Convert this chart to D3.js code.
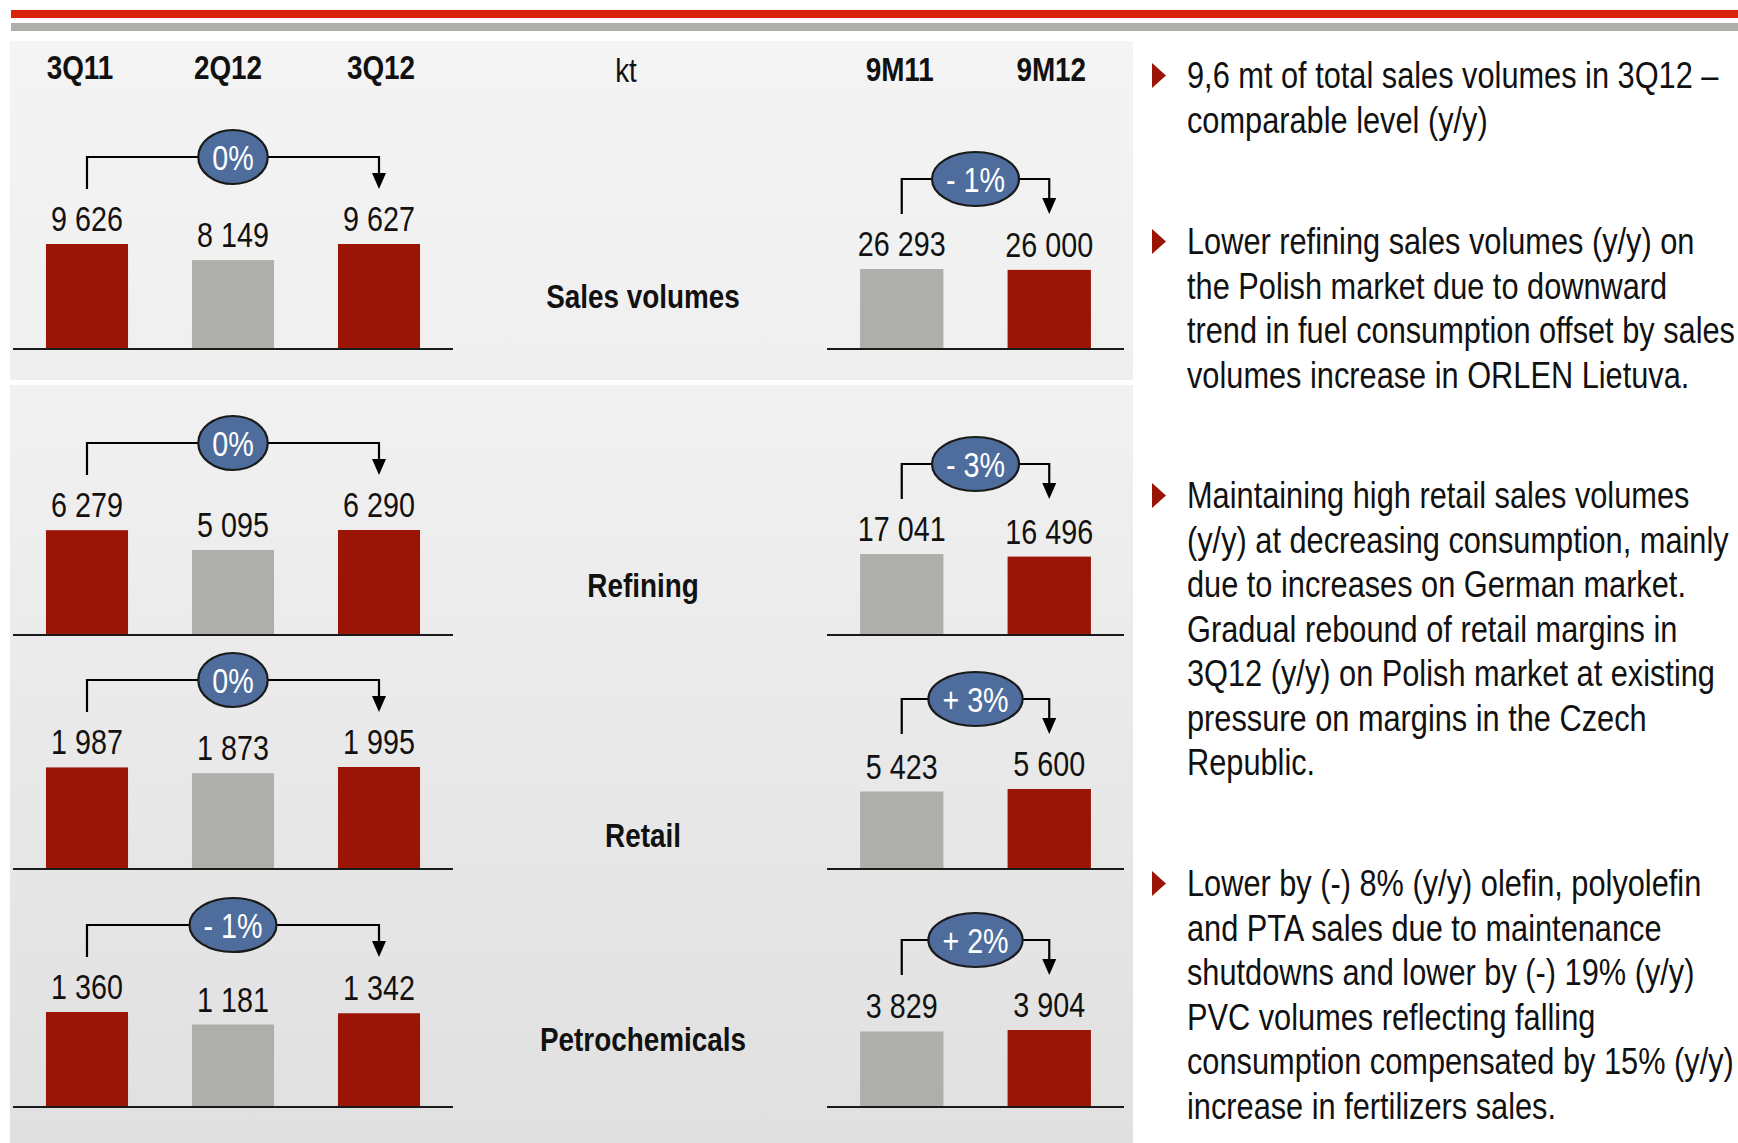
<!DOCTYPE html>
<html>
<head>
<meta charset="utf-8">
<script src="https://cdn.jsdelivr.net/npm/d3@7"></script>
<style>
  html, body { margin: 0; padding: 0; background: #fff; }
  svg { display: block; }
</style>
</head>
<body>
<svg id="chart" width="1738" height="1143"></svg>
<script>
// data
const segments = ['Sales volumes', 'Refining', 'Retail', 'Petrochemicals'];
const quarters = ['3Q11', '2Q12', '3Q12'];
const periods = ['9M11', '9M12'];
const quarterValues = [
  [9626, 8149, 9627],
  [6279, 5095, 6290],
  [1987, 1873, 1995],
  [1360, 1181, 1342]
];
const periodValues = [
  [26293, 26000],
  [17041, 16496],
  [5423, 5600],
  [3829, 3904]
];
const quarterChange = ['0%', '0%', '0%', '- 1%'];
const periodChange = ['- 1%', '- 3%', '+ 3%', '+ 2%'];
const unit = 'kt';
const bullets = [
  ['9,6 mt of total sales volumes in 3Q12 \u2013', 'comparable level (y/y)'],
  ['Lower refining sales volumes (y/y) on', 'the Polish market due to downward',
   'trend in fuel consumption offset by sales', 'volumes increase in ORLEN Lietuva.'],
  ['Maintaining high retail sales volumes', '(y/y) at decreasing consumption, mainly',
   'due to increases on German market.', 'Gradual rebound of retail margins in',
   '3Q12 (y/y) on Polish market at existing', 'pressure on margins in the Czech', 'Republic.'],
  ['Lower by (-) 8% (y/y) olefin, polyolefin', 'and PTA sales due to maintenance',
   'shutdowns and lower by (-) 19% (y/y)', 'PVC volumes reflecting falling',
   'consumption compensated by 15% (y/y)', 'increase in fertilizers sales.']
];

// layout + styles
const rowBase = [349, 635, 869, 1107];
const quarterMaxH = [105, 105, 102, 95];
const periodMaxH = [80, 81, 80, 77];
const labelBase = [308, 597, 847, 1051];
const bulletTop = [88, 254, 508, 896];
const lineGap = 44.5;
const red = '#9b1506', grey = '#aeaeaa', blue = '#4e6d9c';
const quarterColors = [red, grey, red];
const periodColors = [grey, red];

const svg = d3.select('#chart');

// narrow font check (Arial Narrow look); fall back to squeezing Liberation Sans
function measure(font) {
  const c = document.createElement('canvas').getContext('2d');
  c.font = '40px ' + font;
  return c.measureText('Sales volumes 9 626').width;
}
function installed(name) {
  return measure(`"${name}", monospace`) !== measure('monospace') ||
         measure(`"${name}", serif`) !== measure('serif');
}
const hasNarrow = installed('Liberation Sans Narrow');
const family = hasNarrow ? '"Liberation Sans Narrow", sans-serif' : '"Liberation Sans", Arial, sans-serif';
const sx = hasNarrow ? 1 : 0.82;

function addText(g, x, y, str, size, anchor, weight, fill) {
  return g.append('text')
    .attr('transform', `translate(${x},${y}) scale(${sx},1)`)
    .attr('text-anchor', anchor || 'start')
    .attr('font-family', family)
    .attr('font-size', size)
    .attr('font-weight', weight || 'normal')
    .attr('fill', fill || '#111')
    .text(str);
}

const fmt = d3.formatLocale({ decimal: ',', thousands: ' ', grouping: [3], currency: ['', ''] }).format(',d');

// gradients
const defs = svg.append('defs');
function grad(id, c0, c1) {
  const lg = defs.append('linearGradient').attr('id', id).attr('x1', 0).attr('y1', 0).attr('x2', 0).attr('y2', 1);
  lg.append('stop').attr('offset', 0).attr('stop-color', c0);
  lg.append('stop').attr('offset', 1).attr('stop-color', c1);
}
grad('p1', '#f4f4f4', '#efefef');
grad('p2', '#f1f1f1', '#e0e0e0');

// top bands
svg.append('rect').attr('x', 11).attr('y', 10).attr('width', 1727).attr('height', 8).attr('fill', '#d8220c');
svg.append('rect').attr('x', 11).attr('y', 23).attr('width', 1727).attr('height', 8).attr('fill', '#afafaa');

// panels
svg.append('rect').attr('x', 10).attr('y', 41).attr('width', 1123).attr('height', 339).attr('fill', 'url(#p1)');
svg.append('rect').attr('x', 10).attr('y', 385).attr('width', 1123).attr('height', 758).attr('fill', 'url(#p2)');

// scales for x
const xq = d3.scaleBand().domain(quarters).range([14, 452]).paddingInner(0.438).paddingOuter(0.219);
const xp = d3.scaleBand().domain(periods).range([828, 1123]).paddingInner(0.435).paddingOuter(0.2175);

// headers
const headerDx = [-7, -5, 2];
const periodDx = [-2, 2];
quarters.forEach((q, i) => addText(svg, xq(q) + xq.bandwidth() / 2 + headerDx[i], 79, q, 34, 'middle', 'bold'));
periods.forEach((p, i) => addText(svg, xp(p) + xp.bandwidth() / 2 + periodDx[i], 81, p, 34, 'middle', 'bold'));
addText(svg, 626, 82, unit, 34, 'middle');

function drawChart(parent, x, cats, vals, maxH, base, colors, change, rise) {
  const g = parent.append('g');
  const y = d3.scaleLinear().domain([0, d3.max(vals)]).range([base, base - maxH]);
  const cx = c => x(c) + x.bandwidth() / 2;

  g.selectAll('rect.bar').data(vals).enter().append('rect')
    .attr('class', 'bar')
    .attr('x', (d, i) => x(cats[i]))
    .attr('y', d => y(d))
    .attr('width', x.bandwidth())
    .attr('height', d => base - y(d))
    .attr('fill', (d, i) => colors[i]);

  vals.forEach((v, i) => addText(g, cx(cats[i]), y(v) - 13, fmt(v), 35, 'middle'));

  const [r0, r1] = x.range();
  g.append('line').attr('x1', r0 - 1).attr('x2', r1 + 1).attr('y1', base).attr('y2', base)
    .attr('stroke', '#1a1a1a').attr('stroke-width', 2.2);

  // change bracket
  const bottom = y(d3.max(vals)) - 55;
  const top = bottom - rise;
  const xa = cx(cats[0]), xb = cx(cats[cats.length - 1]);
  g.append('path')
    .attr('d', `M${xa},${bottom}V${top}H${xb}V${bottom - 14}`)
    .attr('fill', 'none').attr('stroke', '#000').attr('stroke-width', 2.2);
  g.append('path')
    .attr('d', `M${xb - 7},${bottom - 16}L${xb + 7},${bottom - 16}L${xb},${bottom}Z`)
    .attr('fill', '#000');
  const mid = (xa + xb) / 2;
  const ell = g.append('ellipse').attr('cx', mid).attr('cy', top).attr('ry', 27)
    .attr('fill', blue).attr('stroke', '#1a1a1a').attr('stroke-width', 2.2);
  const t = addText(g, mid, top + 12.5, change, 35, 'middle', 'normal', '#fff');
  const w = t.node().getComputedTextLength() * sx;
  ell.attr('rx', w / 2 + 14);
}

segments.forEach((s, r) => {
  const g = svg.append('g');
  drawChart(g, xq, quarters, quarterValues[r], quarterMaxH[r], rowBase[r], quarterColors, quarterChange[r], 32);
  drawChart(g, xp, periods, periodValues[r], periodMaxH[r], rowBase[r], periodColors, periodChange[r], 35);
  addText(g, 643, labelBase[r], s, 34, 'middle', 'bold');
});

// commentary
const notes = svg.append('g');
bullets.forEach((lines, b) => {
  const y0 = bulletTop[b];
  notes.append('path')
    .attr('d', `M1152,${y0 - 25}L1166,${y0 - 12.5}L1152,${y0}Z`)
    .attr('fill', red);
  lines.forEach((ln, i) => addText(notes, 1187, y0 + i * lineGap, ln, 37.5, 'start', 'normal', '#111'));
});
</script>
</body>
</html>
